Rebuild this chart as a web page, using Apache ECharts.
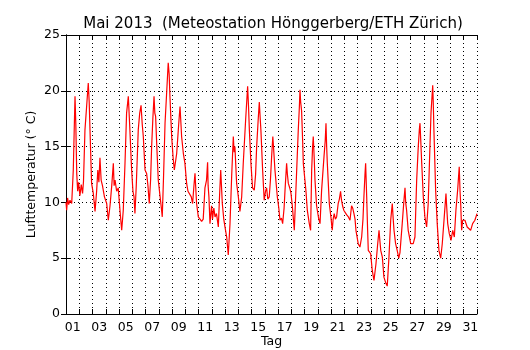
<!DOCTYPE html>
<html lang="de" style="height: 100%">
<head>
  <meta charset="utf-8">
  <title>Mai 2013</title>
</head>
<body style="height: 100%; margin: 0">
  <div id="container" style="width: 530px;height: 350px"></div>

  <script type="text/javascript" src="https://cdn.jsdelivr.net/npm/echarts@6/dist/echarts.min.js"></script>

  <script type="text/javascript">
// time in days since 1 May 00:00, air temperature in deg C
var days = [
  0.00, 0.05, 0.12, 0.20, 0.30, 0.43, 0.55, 0.62, 0.68, 0.74, 0.81, 0.88, 0.95,
  1.05, 1.15, 1.25, 1.32, 1.43, 1.55, 1.68, 1.75, 1.81, 1.93,
  2.06, 2.19, 2.31, 2.40, 2.48, 2.56, 2.65, 2.75, 2.90,
  3.07, 3.19, 3.32, 3.45, 3.57, 3.63, 3.70, 3.82, 3.94,
  4.07, 4.20, 4.32, 4.45, 4.57, 4.70, 4.80, 4.95,
  5.05, 5.13, 5.20, 5.30, 5.45, 5.56, 5.66, 5.75, 5.83, 5.96,
  6.08, 6.18, 6.28, 6.38, 6.46, 6.55, 6.64, 6.70, 6.76, 6.85, 6.96,
  7.10, 7.21, 7.26, 7.35, 7.47, 7.60, 7.71, 7.78, 7.84, 7.97,
  8.08, 8.17, 8.35, 8.50, 8.60, 8.65, 8.72, 8.85, 8.97,
  9.10, 9.20, 9.35, 9.45, 9.55, 9.65, 9.73, 9.80, 9.85, 9.98,
  10.10, 10.23, 10.35, 10.48, 10.60, 10.68, 10.72, 10.78, 10.86, 10.98,
  11.05, 11.15, 11.24, 11.35, 11.49, 11.58, 11.67, 11.79, 11.90, 11.99,
  12.12, 12.24, 12.37, 12.50, 12.62, 12.68, 12.74, 12.87,
  13.00, 13.07, 13.12, 13.25, 13.37, 13.55, 13.70, 13.77, 13.83, 13.95,
  14.07, 14.20, 14.30, 14.38, 14.50, 14.58, 14.65, 14.70, 14.83, 14.95,
  15.05, 15.13, 15.22, 15.33, 15.42, 15.51, 15.60, 15.65, 15.76, 15.94,
  16.05, 16.14, 16.25, 16.34, 16.45, 16.52, 16.64, 16.70, 16.77, 16.90, 16.97,
  17.07, 17.15, 17.22, 17.40, 17.52, 17.60, 17.65, 17.70, 17.77, 17.85, 17.90,
  18.02, 18.10, 18.20, 18.35, 18.45, 18.53, 18.60, 18.65, 18.72, 18.78, 18.90,
  19.05, 19.16, 19.28, 19.46, 19.55, 19.61, 19.66, 19.71, 19.86, 19.98,
  20.08, 20.15, 20.23, 20.32, 20.41, 20.53, 20.62, 20.71, 20.78, 20.86, 20.95,
  21.04, 21.16, 21.30, 21.42, 21.54, 21.62, 21.72, 21.80, 21.87,
  22.04, 22.17, 22.30, 22.40, 22.47, 22.55, 22.60, 22.64, 22.68, 22.75, 22.80, 22.98,
  23.10, 23.23, 23.38, 23.51, 23.61, 23.68, 23.74, 23.86, 23.98,
  24.13, 24.23, 24.36, 24.49, 24.61, 24.68, 24.74, 24.86, 24.98,
  25.10, 25.19, 25.36, 25.49, 25.57, 25.62, 25.69, 25.81,
  26.00, 26.19, 26.32, 26.45, 26.57, 26.65, 26.70, 26.76, 26.83, 26.95,
  27.07, 27.20, 27.32, 27.45, 27.53, 27.66, 27.70, 27.75, 27.88,
  28.00, 28.13, 28.26, 28.38, 28.53, 28.66, 28.72, 28.79, 28.91,
  29.04, 29.17, 29.29, 29.41, 29.54, 29.66, 29.72, 29.77, 29.84, 29.92,
  30.09, 30.26, 30.41, 30.52, 30.67, 30.84, 31.00
];
var temps = [
  10.0, 9.3, 10.4, 9.8, 10.2, 9.9, 12.9, 16.5, 19.5, 17.0, 12.6, 11.0, 11.8,
  10.6, 11.6, 10.8, 11.9, 16.5, 18.5, 20.7, 19.0, 16.5, 11.7,
  10.8, 9.2, 11.0, 12.9, 11.8, 14.0, 12.0, 11.5, 10.5,
  9.9, 8.4, 9.7, 11.5, 13.5, 11.5, 12.0, 11.0, 11.3,
  9.3, 7.5, 9.3, 13.5, 18.0, 19.5, 17.0, 12.9,
  11.0, 10.5, 9.0, 11.5, 16.5, 18.0, 18.7, 17.0, 15.9, 12.9,
  12.6, 11.5, 9.9, 12.0, 15.0, 17.5, 19.5, 18.0, 17.7, 15.0, 12.0,
  10.5, 9.3, 8.7, 12.0, 17.1, 20.0, 22.5, 21.5, 19.5, 15.9,
  14.0, 12.9, 14.4, 17.0, 18.6, 17.5, 15.9, 14.4, 13.5,
  11.7, 11.0, 11.1, 10.5, 9.9, 11.5, 12.6, 11.0, 9.9, 8.7,
  8.6, 8.3, 8.5, 11.3, 12.0, 13.6, 11.5, 10.5, 8.1, 9.7,
  8.5, 9.5, 8.7, 9.0, 7.8, 10.5, 12.9, 9.9, 8.5, 7.8,
  6.9, 5.3, 8.1, 12.5, 15.9, 14.5, 15.0, 11.7,
  10.5, 9.7, 9.2, 10.5, 13.5, 17.4, 20.4, 18.5, 16.5, 13.5,
  11.3, 11.1, 12.5, 15.0, 17.5, 19.0, 17.5, 16.5, 12.9, 10.2,
  11.0, 11.3, 10.3, 10.5, 12.0, 14.1, 15.9, 15.0, 12.9, 10.5,
  9.5, 8.4, 8.6, 8.1, 9.5, 11.1, 13.5, 12.5, 11.7, 11.2, 10.8,
  9.7, 8.5, 7.5, 12.9, 16.5, 18.5, 20.1, 19.0, 18.2, 15.5, 13.5,
  12.0, 11.0, 9.3, 8.1, 7.5, 12.9, 15.0, 15.9, 14.0, 12.0, 9.7,
  8.6, 8.1, 11.1, 14.1, 15.5, 17.1, 15.0, 13.5, 9.9, 8.7,
  7.5, 8.5, 9.0, 8.5, 8.7, 9.9, 10.3, 11.0, 10.2, 9.7, 9.3,
  9.2, 8.9, 8.7, 8.4, 9.7, 9.5, 9.0, 8.5, 7.5,
  6.3, 6.0, 6.9, 8.5, 10.5, 12.5, 13.5, 12.0, 10.5, 7.5, 5.7, 5.4,
  3.9, 3.0, 4.5, 6.3, 7.5, 6.5, 5.7, 5.1, 3.3,
  2.75, 2.5, 5.1, 8.4, 9.9, 8.5, 7.5, 6.3, 5.7,
  5.0, 5.5, 8.1, 10.2, 11.3, 10.0, 9.3, 7.5,
  6.3, 6.3, 6.9, 12.0, 15.0, 16.5, 17.1, 15.5, 13.5, 10.5,
  8.7, 7.8, 9.9, 15.0, 18.0, 20.5, 19.0, 16.5, 11.1,
  8.1, 5.7, 5.0, 6.3, 8.7, 10.8, 9.5, 8.1, 7.2,
  6.6, 7.5, 6.9, 9.3, 11.1, 13.2, 11.0, 9.9, 7.5, 8.4,
  8.4, 7.8, 7.9, 7.5, 8.1, 8.4, 9.0
];
// labels sit at noon of every odd day
var dayLabels = ['01', '03', '05', '07', '09', '11', '13', '15', '17', '19',
                 '21', '23', '25', '27', '29', '31'];

var dom = document.getElementById('container');
var myChart = echarts.init(dom, null, { renderer: 'canvas' });

var font = 'DejaVu Sans';
var black = '#000000';
var seriesData = days.map(function (d, i) { return [d, temps[i]]; });

var option = {
  animation: false,
  backgroundColor: '#ffffff',
  textStyle: { fontFamily: font, color: black },
  title: {
    text: 'Mai 2013  (Meteostation Hönggerberg/ETH Zürich)',
    left: 268,
    top: 12,
    textAlign: 'center',
    textStyle: { fontFamily: font, fontSize: 15, fontWeight: 'normal', color: black }
  },
  grid: { left: 66, right: 53, top: 35, bottom: 36, containLabel: false, outerBoundsMode: 'none' },
  xAxis: [
    {
      type: 'value', position: 'bottom', min: 0, max: 31, interval: 1,
      axisLine: { onZero: false, lineStyle: { color: black, width: 1 } },
      axisTick: { inside: true, length: 5, lineStyle: { color: black } },
      axisLabel: { show: false },
      splitLine: { show: true, lineStyle: { color: black, width: 1, type: [1, 3] } }
    },
    {
      type: 'value', position: 'top', min: 0, max: 31, interval: 1,
      axisLine: { onZero: false, lineStyle: { color: black, width: 1 } },
      axisTick: { inside: true, length: 5, lineStyle: { color: black } },
      axisLabel: { show: false },
      splitLine: { show: false }
    },
    {
      type: 'value', position: 'bottom', min: 0, max: 62, interval: 1,
      axisLine: { show: false, onZero: false },
      axisTick: { show: false },
      splitLine: { show: false },
      axisLabel: {
        margin: 7,
        fontFamily: font, fontSize: 12.5, color: black,
        formatter: function (v) {
          if (v % 4 !== 1) return '';
          return dayLabels[(v - 1) / 4] || '';
        }
      },
      name: 'Tag',
      nameLocation: 'middle',
      nameGap: 21,
      nameMoveOverlap: false,
      nameTextStyle: { fontFamily: font, fontSize: 12.5, color: black }
    }
  ],
  yAxis: [
    {
      type: 'value', position: 'left', min: 0, max: 25, interval: 5,
      axisLine: { show: true, lineStyle: { color: black, width: 1 } },
      axisTick: { show: true, inside: true, length: 5, lineStyle: { color: black } },
      axisLabel: { margin: 6, fontFamily: font, fontSize: 12.5, color: black },
      splitLine: { show: true, lineStyle: { color: black, width: 1, type: [1, 3] } },
      name: 'Lufttemperatur (° C)',
      nameLocation: 'middle',
      nameGap: 28,
      nameRotate: 90,
      nameMoveOverlap: false,
      nameTextStyle: { fontFamily: font, fontSize: 12.5, color: black }
    },
    {
      type: 'value', position: 'right', min: 0, max: 25, interval: 5,
      axisLine: { show: true, lineStyle: { color: black, width: 1 } },
      axisTick: { show: true, inside: true, length: 5, lineStyle: { color: black } },
      axisLabel: { show: false },
      splitLine: { show: false }
    }
  ],
  series: [
    {
      type: 'line',
      xAxisIndex: 0,
      yAxisIndex: 0,
      data: seriesData,
      showSymbol: false,
      lineStyle: { color: '#ff0000', width: 1.2 },
      itemStyle: { color: '#ff0000' }
    }
  ]
};

myChart.setOption(option);
window.addEventListener('resize', myChart.resize);
  </script>
</body>
</html>
